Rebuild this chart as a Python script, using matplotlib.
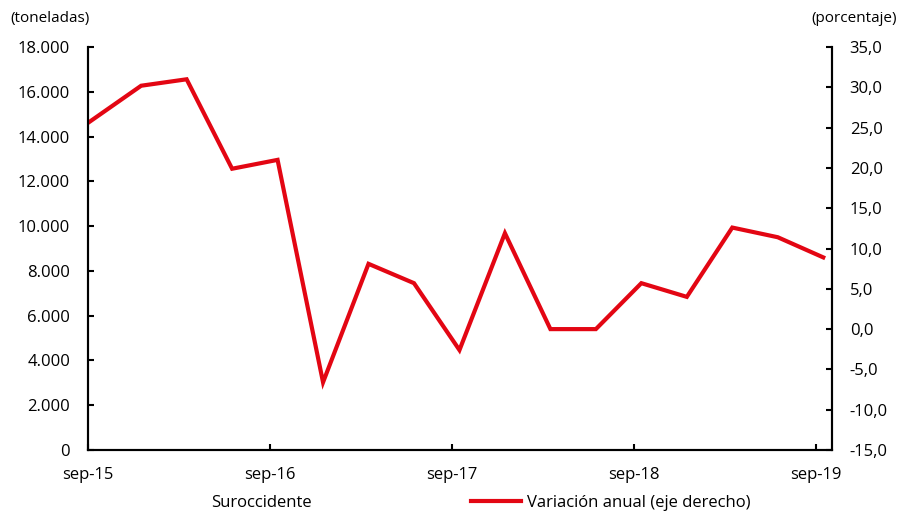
import matplotlib
matplotlib.use("Agg")
import matplotlib.pyplot as plt
import matplotlib.ticker as mticker
from matplotlib.lines import Line2D
from matplotlib.patches import Patch

plt.rcParams['font.family'] = ['Open Sans', 'DejaVu Sans']

# months after sep-15 (tick positions are whole years)
months = [0, 3.5, 6.5, 9.5, 12.5, 15.5, 18.5, 21.5, 24.5, 27.5, 30.5,
          33.5, 36.5, 39.5, 42.5, 45.5, 48.5]
variacion = [25.6, 30.2, 31.0, 19.9, 21.0, -6.6, 8.1, 5.7, -2.6, 11.9, 0.0,
             0.0, 5.7, 4.0, 12.6, 11.4, 8.9]
tick_months = [0, 12, 24, 36, 48]
tick_labels = ['sep-15', 'sep-16', 'sep-17', 'sep-18', 'sep-19']

red = '#E30613'
fs = 12

fig = plt.figure(figsize=(8.99, 5.17), dpi=100)
ax = fig.add_axes([0.098, 0.1296, 0.827, 0.7794])
ax2 = ax.twinx()

ax.set_ylim(0, 18000)
ax.set_yticks(range(0, 18001, 2000))
ax.yaxis.set_major_formatter(
    mticker.FuncFormatter(lambda v, p: f'{int(v):,}'.replace(',', '.')))
ax.set_xlim(0, 49.05)
ax.set_xticks(tick_months)
ax.set_xticklabels(tick_labels)

ax2.set_ylim(-15, 35)
ax2.set_yticks(range(-15, 36, 5))
ax2.yaxis.set_major_formatter(
    mticker.FuncFormatter(lambda v, p: f'{v:.1f}'.replace('.', ',')))
ax2.plot(months, variacion, color=red, lw=3, solid_joinstyle='miter')

for a in (ax, ax2):
    for s in a.spines.values():
        s.set_linewidth(1.5)
    a.spines['top'].set_visible(False)
    a.tick_params(direction='in', length=4, width=1.5, labelsize=fs, pad=13)
ax.tick_params(axis='x', pad=12)

fig.text(0.011, 0.965, '(toneladas)', fontsize=fs - 1, va='center', ha='left')
fig.text(0.998, 0.965, '(porcentaje)', fontsize=fs - 1, va='center', ha='right')

handles = [Patch(facecolor='white', edgecolor='none'),
           Line2D([], [], color=red, lw=3)]
fig.legend(handles, ['Suroccidente', 'Variación anual (eje derecho)'],
           loc='center', bbox_to_anchor=(0.504, 0.027), ncol=2, frameon=False,
           fontsize=fs, handlelength=3.0, columnspacing=9.55, handletextpad=0.35)

fig.savefig('out.png', dpi=100)
